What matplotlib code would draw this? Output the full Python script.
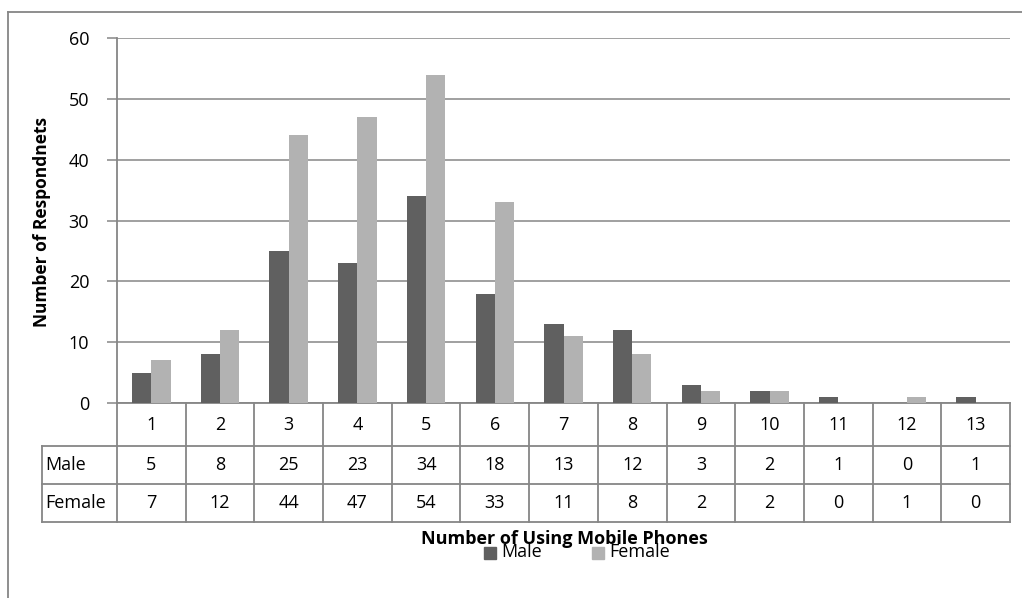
import matplotlib
matplotlib.use("Agg")
import matplotlib.pyplot as plt
from matplotlib.lines import Line2D
from matplotlib.patches import Rectangle

categories = ["1", "2", "3", "4", "5", "6", "7", "8", "9", "10", "11", "12", "13"]
male = [5, 8, 25, 23, 34, 18, 13, 12, 3, 2, 1, 0, 1]
female = [7, 12, 44, 47, 54, 33, 11, 8, 2, 2, 0, 1, 0]
series_names = ["Male", "Female"]
y_ticks = [0, 10, 20, 30, 40, 50, 60]

plt.rcParams['font.family'] = ['Open Sans', 'DejaVu Sans']
W, H = 1022, 598
fig = plt.figure(figsize=(W / 100, H / 100), dpi=100)
GRAY = '#868686'
MALE_C = '#606060'
FEM_C = '#b2b2b2'
FS = 13

def fx(px):
    return px / W

def fy(py):
    return 1 - py / H

# outer border (cropped on right/bottom)
fig.add_artist(Line2D([fx(8), fx(8)], [fy(12), fy(600)], color=GRAY, lw=1.3))
fig.add_artist(Line2D([fx(8), fx(1030)], [fy(12), fy(12)], color=GRAY, lw=1.3))

L, R, T, B = 117, 1010, 38, 403
ax = fig.add_axes([fx(L), fy(B), fx(R - L), (B - T) / H])
n = len(categories)
xs = list(range(1, n + 1))
bw = 0.28
ax.bar([x - bw / 2 for x in xs], male, width=bw, color=MALE_C, zorder=3)
ax.bar([x + bw / 2 for x in xs], female, width=bw, color=FEM_C, zorder=3)
ax.set_xlim(0.5, n + 0.5)
ax.set_ylim(0, 60)
ax.set_yticks(y_ticks)
ax.set_yticklabels([str(v) for v in y_ticks], fontsize=FS)
ax.set_xticks([])
ax.yaxis.grid(True, color=GRAY, lw=1.1, zorder=0)
ax.set_axisbelow(True)
for s in ['top', 'right']:
    ax.spines[s].set_visible(False)
for s in ['left', 'bottom']:
    ax.spines[s].set_color(GRAY)
    ax.spines[s].set_linewidth(1.3)
ax.tick_params(axis='y', length=7, width=1.1, color=GRAY, pad=13)
fig.text(fx(42), fy(222), "Number of Respondnets", rotation=90, ha='center', va='center',
         fontsize=12.5, fontweight='bold')

# data table
TL = 42
rows = [403, 446, 484, 522]
unit = (R - L) / n
tax = fig.add_axes([fx(TL), fy(rows[-1]), fx(R - TL), (rows[-1] - rows[0]) / H])
tax.set_xlim(0.5 - (L - TL) / unit, n + 0.5)
tax.set_ylim(rows[-1], rows[0])
tax.axis('off')
lw = 1.3
for i in range(n + 1):
    tax.plot([0.5 + i, 0.5 + i], [rows[0], rows[-1]], color=GRAY, lw=lw, clip_on=False)
x0 = 0.5 - (L - TL) / unit
tax.plot([x0, x0], [rows[1], rows[-1]], color=GRAY, lw=lw, clip_on=False)
for r in rows[1:]:
    tax.plot([x0, n + 0.5], [r, r], color=GRAY, lw=lw, clip_on=False)
for i, c in enumerate(categories):
    tax.text(xs[i], (rows[0] + rows[1]) / 2, c, ha='center', va='center', fontsize=FS)
for j, (name, vals) in enumerate(zip(series_names, [male, female])):
    yc = (rows[j + 1] + rows[j + 2]) / 2
    tax.text(x0 + 0.05, yc, name, ha='left', va='center', fontsize=FS)
    for i, v in enumerate(vals):
        tax.text(xs[i], yc, str(v), ha='center', va='center', fontsize=FS)

# x axis title
fig.text(fx(564), fy(539), "Number of Using Mobile Phones", ha='center', va='center',
         fontsize=13, fontweight='bold')
# legend (overlaps the title as in the reference)
for px, col, name in [(484, MALE_C, series_names[0]), (592, FEM_C, series_names[1])]:
    fig.add_artist(Rectangle((fx(px), fy(559)), fx(12), 12 / H, color=col))
    fig.text(fx(px + 17), fy(552), name, ha='left', va='center', fontsize=FS)

fig.savefig("out.png", dpi=100)
